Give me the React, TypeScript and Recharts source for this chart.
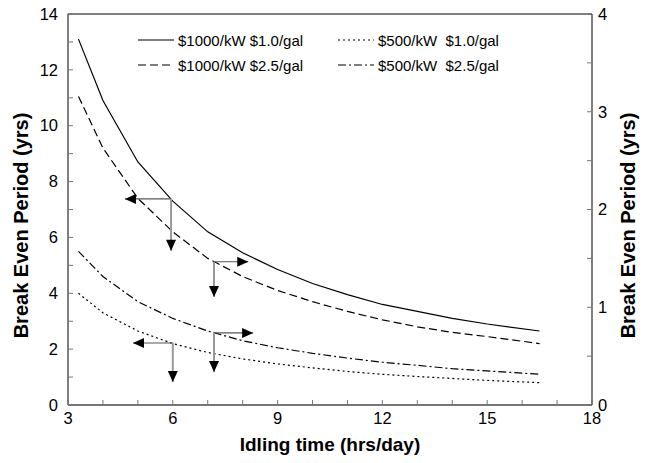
import React from 'react'
import {
  LineChart,
  Line,
  XAxis,
  YAxis,
  ReferenceLine,
  ReferenceDot,
} from 'recharts'

// idling hours per day
const hours = [3.3, 4, 5, 6, 7, 8, 9, 10, 11, 12, 13, 14, 15, 16.5]

// break even period (yrs)
const kw1000Gal10 = [13.1, 10.9, 8.7, 7.3, 6.2, 5.45, 4.85, 4.35, 3.95, 3.6, 3.35, 3.1, 2.9, 2.65]
const kw1000Gal25 = [11.05, 9.2, 7.4, 6.2, 5.25, 4.6, 4.1, 3.7, 3.35, 3.05, 2.8, 2.6, 2.45, 2.2]
const kw500Gal10 = [4.0, 3.3, 2.65, 2.2, 1.88, 1.65, 1.47, 1.33, 1.2, 1.1, 1.02, 0.95, 0.88, 0.8]
const kw500Gal25 = [5.5, 4.6, 3.7, 3.1, 2.65, 2.3, 2.05, 1.85, 1.68, 1.53, 1.42, 1.3, 1.22, 1.1]

const xTicks = [3, 4, 5, 6, 7, 8, 9, 10, 11, 12, 13, 14, 15, 16, 17, 18]
const xLabels = [3, 6, 9, 12, 15, 18]
const leftTicks = [0, 1, 2, 3, 4, 5, 6, 7, 8, 9, 10, 11, 12, 13, 14]
const leftLabels = [0, 2, 4, 6, 8, 10, 12, 14]
const rightTicks = [0, 0.5, 1, 1.5, 2, 2.5, 3, 3.5, 4]
const rightLabels = [0, 1, 2, 3, 4]

// arrows pointing from a curve to the axes
const arrows = [
  { x0: 5.95, y0: 7.38, x1: 4.63, y1: 7.38, dir: 'left' },
  { x0: 5.95, y0: 7.38, x1: 5.95, y1: 5.52, dir: 'down' },
  { x0: 7.18, y0: 5.13, x1: 8.16, y1: 5.13, dir: 'right' },
  { x0: 7.18, y0: 5.13, x1: 7.18, y1: 3.87, dir: 'down' },
  { x0: 6.0, y0: 2.22, x1: 4.86, y1: 2.22, dir: 'left' },
  { x0: 6.0, y0: 2.22, x1: 6.0, y1: 0.82, dir: 'down' },
  { x0: 7.18, y0: 2.58, x1: 8.3, y1: 2.58, dir: 'right' },
  { x0: 7.18, y0: 2.58, x1: 7.18, y1: 1.18, dir: 'down' },
]

const series = [
  { key: 'a', name: '$1000/kW $1.0/gal', values: kw1000Gal10, dash: undefined },
  { key: 'c', name: '$500/kW  $1.0/gal', values: kw500Gal10, dash: '2 3' },
  { key: 'b', name: '$1000/kW $2.5/gal', values: kw1000Gal25, dash: '8 4' },
  { key: 'd', name: '$500/kW  $2.5/gal', values: kw500Gal25, dash: '8 3 2 3' },
]

const data = hours.map((h, i) => {
  const row: Record<string, number> = { x: h }
  series.forEach((s) => (row[s.key] = s.values[i]))
  return row
})

const FONT = 'Liberation Sans, Arial, sans-serif'
const TICK_LEN = 5
const Y_TITLE = 'Break Even Period (yrs)'

const XTick = (props: any) => {
  const { x, y, payload } = props
  const axisY = y - 7
  return (
    <g>
      <line x1={x} x2={x} y1={axisY} y2={axisY - TICK_LEN} stroke="#777" />
      {xLabels.includes(payload.value) && (
        <text x={x} y={y} dy="0.71em" textAnchor="middle" fontSize={16.5} fontFamily={FONT} fill="#000">
          {payload.value}
        </text>
      )}
    </g>
  )
}

const LeftTick = (props: any) => {
  const { x, y, payload } = props
  const axisX = x + 10
  return (
    <g>
      <line x1={axisX} x2={axisX + TICK_LEN} y1={y} y2={y} stroke="#777" />
      {leftLabels.includes(payload.value) && (
        <text x={x} y={y} dy="0.35em" textAnchor="end" fontSize={16.5} fontFamily={FONT} fill="#000">
          {payload.value}
        </text>
      )}
    </g>
  )
}

const RightTick = (props: any) => {
  const { x, y, payload } = props
  const axisX = x - 6
  return (
    <g>
      <line x1={axisX} x2={axisX - TICK_LEN} y1={y} y2={y} stroke="#777" />
      {rightLabels.includes(payload.value) && (
        <text x={x} y={y} dy="0.35em" textAnchor="start" fontSize={16.5} fontFamily={FONT} fill="#000">
          {payload.value}
        </text>
      )}
    </g>
  )
}

// rotated axis title, a bit below the plot centre like the original
const yTitle = (cx: number) => (props: any) => {
  const { viewBox } = props
  const cy = viewBox.y + viewBox.height / 2 + 16
  return (
    <text
      transform={`translate(${cx}, ${cy}) rotate(-90)`}
      textAnchor="middle"
      dominantBaseline="central"
      fontFamily={FONT}
      fontSize={20}
      fontWeight="bold"
      fill="#000"
    >
      {Y_TITLE}
    </text>
  )
}

const arrowHead = (dir: string) => (props: any) => {
  const { cx, cy } = props
  const l = 11
  const w = 5
  let pts = ''
  if (dir === 'left') pts = `${cx},${cy} ${cx + l},${cy - w} ${cx + l},${cy + w}`
  if (dir === 'right') pts = `${cx},${cy} ${cx - l},${cy - w} ${cx - l},${cy + w}`
  if (dir === 'down') pts = `${cx},${cy} ${cx - w},${cy - l} ${cx + w},${cy - l}`
  return <polygon points={pts} fill="#000" />
}

const LegendBox = () => (
  <div
    style={{
      position: 'absolute',
      left: 138,
      top: 31,
      fontFamily: FONT,
      fontSize: 15,
      display: 'grid',
      gridTemplateColumns: '200px 200px',
      rowGap: 7,
    }}
  >
    {series.map((s) => (
      <div key={s.key} style={{ display: 'flex', alignItems: 'center', height: 18 }}>
        <svg width={36} height={10} style={{ marginRight: 4 }}>
          <line x1={0} x2={36} y1={5} y2={5} stroke="#000" strokeWidth={1.2} strokeDasharray={s.dash} />
        </svg>
        <span style={{ whiteSpace: 'pre' }}>{s.name}</span>
      </div>
    ))}
  </div>
)

export default function App() {
  return (
    <div style={{ position: 'absolute', left: 0, top: 0, background: '#fff' }}>
      <LineChart width={648} height={463} data={data} margin={{ top: 14, right: 0, bottom: 0, left: 0 }}>
        <XAxis
          dataKey="x"
          type="number"
          domain={[3, 18]}
          ticks={xTicks}
          interval={0}
          tickSize={0}
          tickMargin={7}
          tickLine={false}
          tick={<XTick />}
          height={58}
          stroke="#777"
          strokeWidth={2}
          label={{ value: 'Idling time (hrs/day)', position: 'insideBottom', offset: 12, style: { fontFamily: FONT, fontSize: 19, fontWeight: 'bold', fill: '#000' } }}
        />
        <YAxis
          yAxisId="left"
          domain={[0, 14]}
          ticks={leftTicks}
          interval={0}
          width={68}
          tickSize={0}
          tickMargin={10}
          tickLine={false}
          tick={<LeftTick />}
          stroke="#000"
          label={{ content: yTitle(21) }}
        />
        <YAxis
          yAxisId="right"
          orientation="right"
          domain={[0, 4]}
          allowDataOverflow
          ticks={rightTicks}
          interval={0}
          width={56}
          tickSize={0}
          tickMargin={6}
          tickLine={false}
          tick={<RightTick />}
          stroke="#000"
          label={{ content: yTitle(628) }}
        />
        <ReferenceLine yAxisId="left" y={14} stroke="#000" />
        {series.map((s) => (
          <Line
            key={s.key}
            yAxisId="left"
            dataKey={s.key}
            name={s.name}
            stroke="#000"
            strokeWidth={1.2}
            strokeDasharray={s.dash}
            dot={false}
            type="linear"
            isAnimationActive={false}
          />
        ))}
        {/* invisible series so the secondary axis gets drawn */}
        <Line yAxisId="right" dataKey="c" stroke="none" dot={false} activeDot={false} legendType="none" isAnimationActive={false} />
        {arrows.map((a, i) => (
          <ReferenceLine
            key={'l' + i}
            yAxisId="left"
            segment={[{ x: a.x0, y: a.y0 }, { x: a.x1, y: a.y1 }]}
            stroke={a.dir === 'down' ? '#999' : '#555'}
            strokeWidth={a.dir === 'down' ? 2 : 1.2}
          />
        ))}
        {arrows.map((a, i) => (
          <ReferenceDot key={'h' + i} yAxisId="left" x={a.x1} y={a.y1} r={0} shape={arrowHead(a.dir)} />
        ))}
      </LineChart>
      <LegendBox />
    </div>
  )
}
